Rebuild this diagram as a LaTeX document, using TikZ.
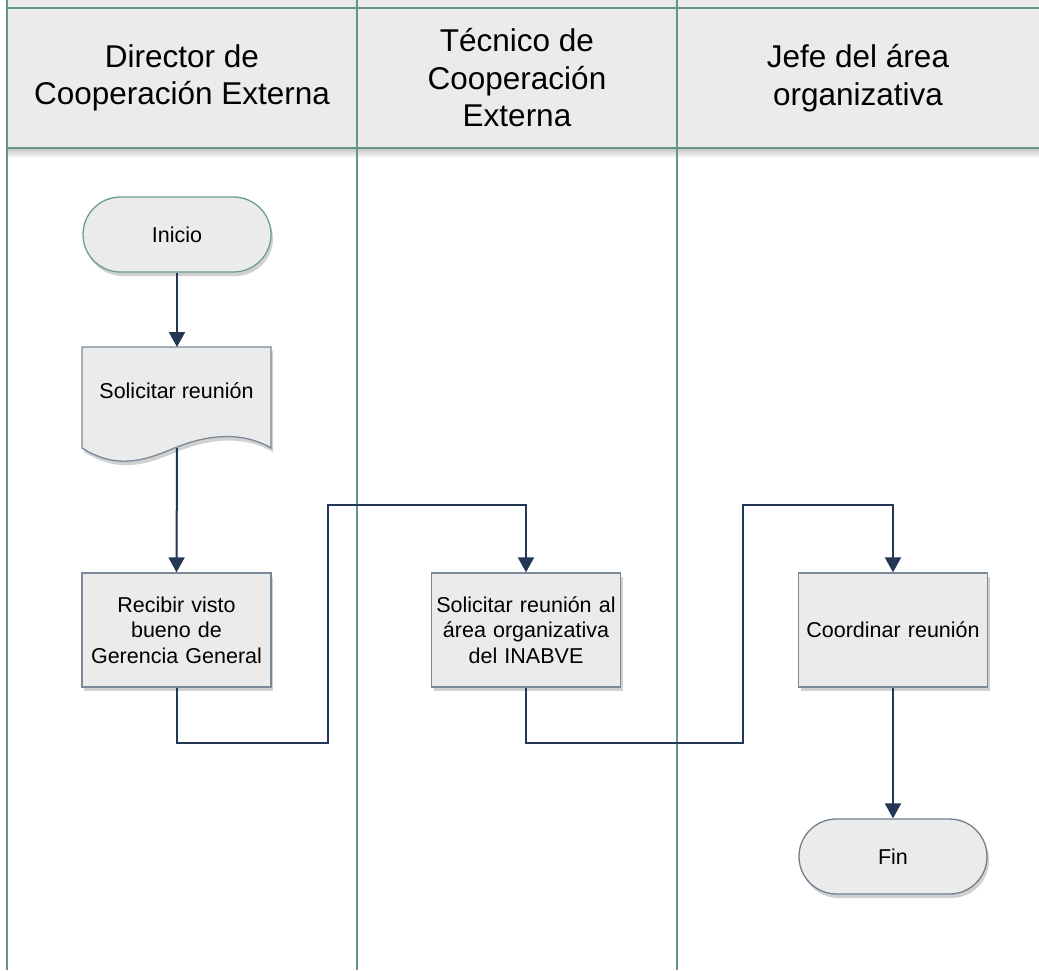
\documentclass[tikz,border=0pt]{standalone}
\usepackage{fontspec}
\setmainfont{Liberation Sans}
\usetikzlibrary{arrows.meta,shapes.misc,shadows}

\definecolor{laneC}{RGB}{100,150,136}
\definecolor{boxC}{RGB}{122,136,152}
\definecolor{startC}{RGB}{108,156,142}
\definecolor{endC}{RGB}{112,126,142}
\definecolor{flowC}{RGB}{36,56,86}
\definecolor{fillC}{RGB}{235,235,235}

\tikzset{
  laneline/.style={draw=laneC, line width=2.4pt},
  headcell/.style={fill=fillC, draw=none, align=center, inner sep=0pt,
    font=\fontsize{31.5}{37.5}\selectfont},
  softshadow/.style={drop shadow={shadow xshift=2pt, shadow yshift=-4pt,
    opacity=0.18, fill=black}},
  procbox/.style={rectangle, draw=boxC, line width=1.3pt, fill=fillC,
    minimum width=189pt, minimum height=114pt, align=center, text width=186pt,
    inner sep=0pt, font=\fontsize{21.5}{25.5}\selectfont, softshadow},
  termbox/.style={rounded rectangle, line width=1.3pt, fill=fillC,
    minimum width=188pt, minimum height=75pt, inner sep=0pt,
    font=\fontsize{21.5}{25.5}\selectfont, softshadow},
  doctext/.style={rectangle, draw=none, minimum width=189pt, minimum height=101pt,
    inner sep=0pt, font=\fontsize{21.5}{25.5}\selectfont},
  flow/.style={draw=flowC, line width=2pt, -{Triangle[width=16pt,length=15pt]}},
}

\begin{document}
\begin{tikzpicture}[x=1pt,y=-1pt]
\useasboundingbox (0,0) rectangle (1039,970);

% pool strip and lane headers
\fill[fillC] (7,0) rectangle (1039,8);
\shade[top color=black!22, bottom color=white] (7,149) rectangle (1039,158);
\node[headcell, minimum width=350pt, minimum height=140pt] (h1) at (182,78)
  {Director de\\Cooperación Externa};
\node[headcell, minimum width=320pt, minimum height=140pt] (h2) at (517,78)
  {Técnico de\\Cooperación\\Externa};
\node[headcell, minimum width=362pt, minimum height=140pt] (h3) at (858,78)
  {Jefe del área\\organizativa};

% lane borders
\draw[laneline] (7,0) -- (7,970);
\draw[laneline] (357,0) -- (357,970);
\draw[laneline] (677,0) -- (677,970);
\draw[laneline] (7,8) -- (1039,8);
\draw[laneline] (7,148) -- (1039,148);

% lane 1
\node[termbox, draw=startC] (ini) at (177,234.5) {Inicio};

\fill[black, opacity=0.18, xshift=2pt, yshift=-4pt]
  (82,347) -- (271,347) -- (271,448)
  .. controls (240,430) and (205,436) .. (177,447)
  .. controls (150,458) and (120,472) .. (82,448) -- cycle;
\draw[draw=boxC, line width=1.3pt, fill=fillC]
  (82,347) -- (271,347) -- (271,448)
  .. controls (240,430) and (205,436) .. (177,447)
  .. controls (150,458) and (120,472) .. (82,448) -- cycle;
\node[doctext] (sol) at (176.5,391) {Solicitar reunión};
\coordinate (solbase) at (177,448);

\node[procbox] (rec) at (176.5,630) {Recibir visto\\bueno de\\Gerencia General};

% lane 2
\node[procbox] (sa) at (526,630) {Solicitar reunión al\\área organizativa\\del INABVE};

% lane 3
\node[procbox] (co) at (893,630) {Coordinar reunión};
\node[termbox, draw=endC] (fin) at (893,856.5) {Fin};

% connectors
\coordinate (j1a) at (328,743);
\coordinate (j1b) at (328,505);
\coordinate (j2a) at (743,743);
\coordinate (j2b) at (743,505);

\draw[flow] (ini.south) -- (177,347);
\draw[flow] (solbase) -- (rec.north);
\draw[flow] (rec.south) |- (j1a) -- (j1b) -| (sa.north);
\draw[flow] (sa.south) |- (j2a) -- (j2b) -| (co.north);
\draw[flow] (co.south) -- (fin.north);
\end{tikzpicture}
\end{document}
